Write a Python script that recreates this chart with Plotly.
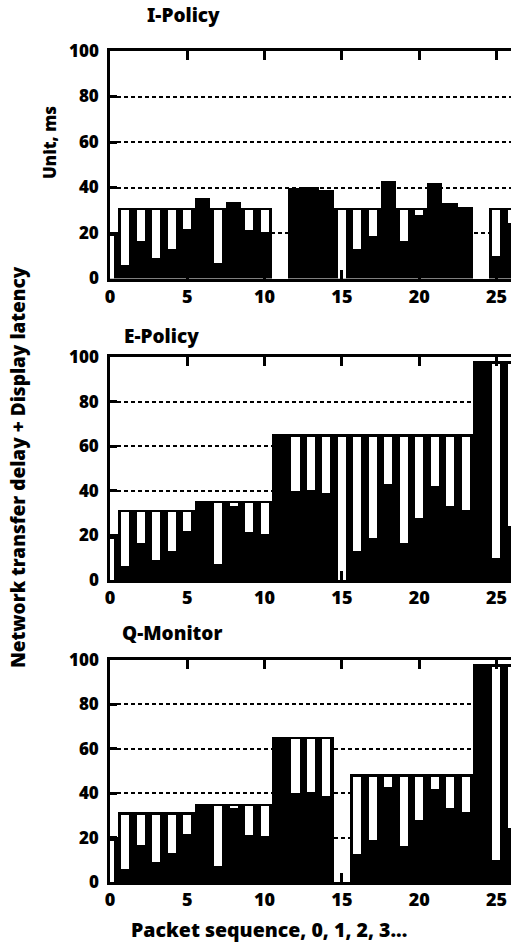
import plotly.graph_objects as go
from plotly.subplots import make_subplots

# Packet index along the x axis
packets = list(range(27))

# Network transfer delay per packet (ms)
delay_ms = [0, 6, 16.5, 9, 13, 21.8, 35.3, 7, 33.5, 21.2, 20.5,
            65.3, 40, 40.4, 38.9, 0, 12.8, 18.8, 42.8, 16.3, 27.8,
            42.1, 33.2, 31.3, 98, 9.8, 24.3]

# Time at which each packet is displayed (ms); None = packet discarded
display_ipolicy = [19.5, 31.2, 31.2, 31.2, 31.2, 31.2, 31.2, 31.2, 31.2, 31.2, 31.2,
                   None, 31.2, 31.2, 31.2, 31.2, 31.2, 31.2, 31.2, 31.2, 31.2,
                   31.2, 31.2, 31.2, None, 31.2, 31.2]
display_epolicy = [19.5, 31.3, 31.3, 31.3, 31.3, 31.3, 35.3, 35.3, 35.3, 35.3, 35.3,
                   65.3, 65.3, 65.3, 65.3, 65.3, 65.3, 65.3, 65.3, 65.3, 65.3,
                   65.3, 65.3, 65.3, 98, 98, 98]
display_qmonitor = [19.5, 31.3, 31.3, 31.3, 31.3, 31.3, 35.3, 35.3, 35.3, 35.3, 35.3,
                    65.3, 65.3, 65.3, 65.3, None, 48.5, 48.5, 48.5, 48.5, 48.5,
                    48.5, 48.5, 48.5, 98, 98, 98]

panel_titles = ["I-Policy", "E-Policy", "Q-Monitor"]
panels = [display_ipolicy, display_epolicy, display_qmonitor]
y_ticks = [0, 20, 40, 60, 80, 100]
x_ticks = [0, 5, 10, 15, 20, 25]

FONT = "Noto Sans"
WEIGHT = 900
EDGE = 1.0          # dark rim kept above each white latency strip (ms)

fig = make_subplots(rows=3, cols=1)

for row, shown in enumerate(panels, start=1):
    tops, w_base, w_len = [], [], []
    for d, s in zip(delay_ms, shown):
        if s is None:
            tops.append(None); w_base.append(None); w_len.append(None)
            continue
        tops.append(max(s, d))
        if s - d > EDGE * 0.5:
            w_base.append(d)
            w_len.append(max(s - EDGE - d, 0.6))
        else:
            w_base.append(None); w_len.append(None)
    # total time (delay + latency) as solid black columns
    fig.add_trace(go.Bar(x=packets, y=tops, width=1.0,
                         marker=dict(color="black", line=dict(width=0)),
                         showlegend=False, hoverinfo="skip"), row=row, col=1)
    # display latency as white strips sitting on top of the delay
    fig.add_trace(go.Bar(x=packets, y=w_len, base=w_base, width=0.52,
                         marker=dict(color="white", line=dict(width=0)),
                         showlegend=False, hoverinfo="skip"), row=row, col=1)

# panel placement (paper coordinates)
domains = [(0.7262, 1.0), (0.3634, 0.6314), (0.0, 0.2671)]
for i, dom in enumerate(domains, start=1):
    fig.update_layout(**{
        f"xaxis{'' if i == 1 else i}": dict(
            domain=[0, 1], range=[0, 25.94], tickvals=x_ticks,
            ticks="inside", ticklen=9, tickwidth=2.5, tickcolor="black",
            showline=True, linewidth=2.5, linecolor="black", mirror="ticks",
            showgrid=False, zeroline=False,
            tickfont=dict(family=FONT, size=18, color="black", weight=WEIGHT),
            ticklabelstandoff=0),
        f"yaxis{'' if i == 1 else i}": dict(
            domain=list(dom), range=[0, 100], tickvals=y_ticks,
            ticks="inside", ticklen=7, tickwidth=2.5, tickcolor="black",
            showline=True, linewidth=2.5, linecolor="black", mirror=False,
            showgrid=True, gridcolor="black", gridwidth=2, griddash="4px,3px",
            zeroline=False,
            tickfont=dict(family=FONT, size=17, color="black", weight=WEIGHT),
            ticklabelstandoff=5),
    })

W_PLOT = 401.0
H_PLOT = 831.0
def px_x(p):
    return (p - 110) / W_PLOT
def px_y(p):
    return (882 - p) / H_PLOT

title_font = dict(family=FONT, size=19, color="black", weight=WEIGHT)
annotations = [
    dict(text=panel_titles[0], x=px_x(145), y=px_y(15.5), xanchor="left", yanchor="middle"),
    dict(text=panel_titles[1], x=px_x(122), y=px_y(336), xanchor="left", yanchor="middle"),
    dict(text=panel_titles[2], x=px_x(120), y=px_y(633), xanchor="left", yanchor="middle"),
    dict(text="Packet sequence, 0, 1, 2, 3...", x=px_x(269), y=px_y(929),
         xanchor="center", yanchor="middle",
         font=dict(family=FONT, size=19.5, color="black", weight=WEIGHT)),
    dict(text="Network transfer delay + Display latency", x=px_x(18), y=px_y(467),
         xanchor="center", yanchor="middle", textangle=-90,
         font=dict(family=FONT, size=19, color="black", weight=WEIGHT)),
    dict(text="Unit, ms", x=px_x(50), y=px_y(143), xanchor="center", yanchor="middle",
         textangle=-90, font=dict(family=FONT, size=17, color="black", weight=WEIGHT)),
]
for a in annotations:
    a.setdefault("font", title_font)
    a.update(xref="paper", yref="paper", showarrow=False)

fig.update_layout(
    width=511, height=950,
    margin=dict(l=110, r=0, t=51, b=68),
    barmode="overlay", bargap=0,
    paper_bgcolor="white", plot_bgcolor="white",
    annotations=annotations,
    showlegend=False,
)

fig.write_html("out.html")
